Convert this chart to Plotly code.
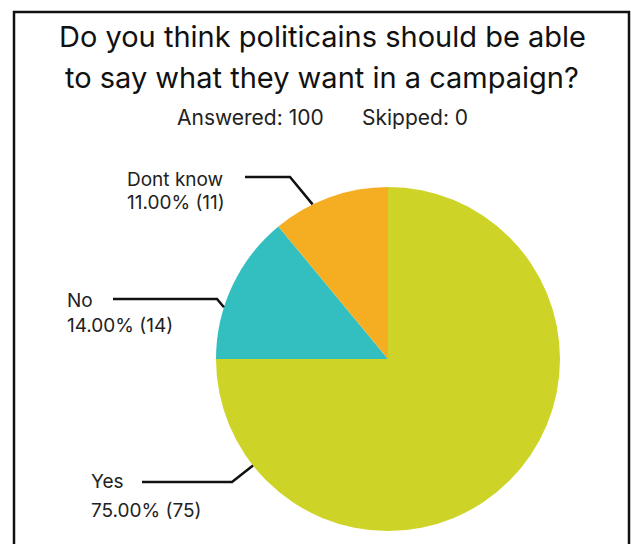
import math
import plotly.graph_objects as go

# Survey responses
categories = ["Yes", "No", "Dont know"]
counts = [75, 14, 11]
colors = ["#CDD427", "#33BFBF", "#F5AE22"]

title_lines = ["Do you think politicains should be able",
               "to say what they want in a campaign?"]
answered = 100
skipped = 0

W, H = 631, 544
FONT = "Inter, Lato, sans-serif"

# pie placement in pixels
CX, CY, R = 388, 359, 172

def px(x):
    return x / W

def py(y):
    return 1 - y / H

fig = go.Figure(go.Pie(
    labels=categories,
    values=counts,
    marker=dict(colors=colors, line=dict(width=0)),
    sort=False,
    direction="clockwise",
    rotation=0,
    textinfo="none",
    hoverinfo="label+percent+value",
    domain=dict(x=[px(CX - R), px(CX + R)], y=[py(CY + R), py(CY - R)]),
    showlegend=False,
))

total = sum(counts)

# label layout: angle on the rim where the leader starts (deg clockwise from 12 o'clock),
# elbow position and text anchor
label_style = {
    "Dont know": dict(angle=334, elbow=(290, 177), end_x=245, text_x=125, y1=179, y2=202),
    "No": dict(angle=287.5, elbow=(217, 299), end_x=113, text_x=65, y1=300, y2=325),
    "Yes": dict(angle=231.7, elbow=(232, 482), end_x=142, text_x=89, y1=481, y2=510),
}

shapes = []
annotations = []

for cat, n in zip(categories, counts):
    st = label_style[cat]
    a = math.radians(st["angle"])
    rx = CX + R * math.sin(a)
    ry = CY - R * math.cos(a)
    ex, ey = st["elbow"]
    path = f"M {px(st['end_x'])},{py(ey)} L {px(ex)},{py(ey)} L {px(rx)},{py(ry)}"
    shapes.append(dict(type="path", xref="paper", yref="paper", path=path,
                       line=dict(color="#111111", width=2.5)))
    annotations.append(dict(x=px(st["text_x"]), y=py(st["y1"]), xref="paper", yref="paper",
                            text=cat, showarrow=False, xanchor="left", yanchor="middle",
                            font=dict(family=FONT, size=19, color="#222222")))
    annotations.append(dict(x=px(st["text_x"]), y=py(st["y2"]), xref="paper", yref="paper",
                            text=f"{n / total * 100:.2f}% ({n})", showarrow=False,
                            xanchor="left", yanchor="middle",
                            font=dict(family=FONT, size=19, color="#222222")))

# title and response summary
for i, line in enumerate(title_lines):
    annotations.append(dict(x=px(322), y=py(37 + i * 41), xref="paper", yref="paper",
                            text=line, showarrow=False, xanchor="center", yanchor="middle",
                            font=dict(family=FONT, size=29, color="#111111")))
annotations.append(dict(x=px(250), y=py(117), xref="paper", yref="paper",
                        text=f"Answered: {answered}", showarrow=False,
                        xanchor="center", yanchor="middle",
                        font=dict(family=FONT, size=21, color="#222222")))
annotations.append(dict(x=px(415), y=py(117), xref="paper", yref="paper",
                        text=f"Skipped: {skipped}", showarrow=False,
                        xanchor="center", yanchor="middle",
                        font=dict(family=FONT, size=21, color="#222222")))

# frame around the chart (open at the bottom)
shapes.append(dict(type="path", xref="paper", yref="paper",
                   path=f"M {px(14)},{py(560)} L {px(14)},{py(12)} L {px(629)},{py(12)} L {px(629)},{py(560)}",
                   line=dict(color="#111111", width=2.5)))

fig.update_layout(
    width=W, height=H,
    margin=dict(l=0, r=0, t=0, b=0),
    paper_bgcolor="white",
    plot_bgcolor="white",
    shapes=shapes,
    annotations=annotations,
)

fig.write_html("out.html")
